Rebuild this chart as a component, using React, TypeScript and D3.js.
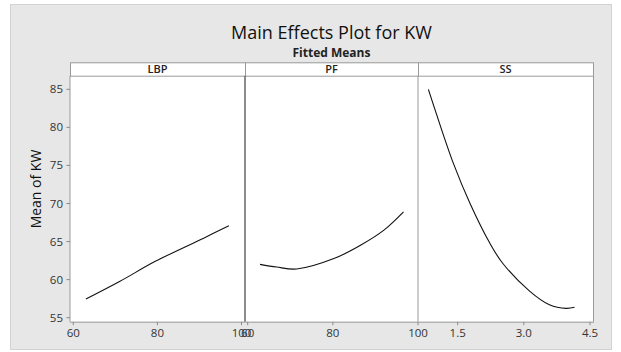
import React from "react";
import * as d3 from "d3";

// ---- data ----
const panelNames = ["LBP", "PF", "SS"];
const yTicks = [55, 60, 65, 70, 75, 80, 85];
const lbpTicks = [60, 80, 100];
const pfTicks = [60, 80, 100];
const ssTicks = [1.5, 3.0, 4.5];

const lbpX = [63, 71, 79.5, 91, 97];
const lbpY = [57.45, 59.75, 62.4, 65.45, 67.08];

const pfX = [62.9, 66.8, 71.5, 80.4, 86.6, 92.0, 96.6];
const pfY = [62.0, 61.65, 61.4, 62.8, 64.55, 66.5, 68.9];

const ssX = [0.835, 0.987, 1.4, 1.78, 2.23, 2.52, 3.13, 3.58, 3.96, 4.15];
const ssY = [85.0, 82.3, 75.3, 70.0, 64.77, 62.15, 58.5, 56.7, 56.23, 56.37];

const W = 621;
const H = 352;

export default function App() {
  const top = 75.7;
  const bottom = 321.7;
  const stripTop = 62.3;
  const y = d3.scaleLinear().domain([55, 85]).range([317.7, 89.3]);

  const panels = [
    {
      name: panelNames[0], x0: 70, x1: 245,
      x: d3.scaleLinear().domain([60, 100]).range([73.3, 241.5]),
      ticks: lbpTicks, fmt: (v: number) => String(v), xs: lbpX, ys: lbpY,
    },
    {
      name: panelNames[1], x0: 245, x1: 418,
      x: d3.scaleLinear().domain([60, 100]).range([247.7, 418]),
      ticks: pfTicks, fmt: (v: number) => String(v), xs: pfX, ys: pfY,
    },
    {
      name: panelNames[2], x0: 418, x1: 593,
      x: d3.scaleLinear().domain([1.5, 4.5]).range([457.7, 590]),
      ticks: ssTicks, fmt: (v: number) => v.toFixed(1), xs: ssX, ys: ssY,
    },
  ];

  const font = "'Open Sans', 'Noto Sans', sans-serif";

  return (
    <svg width={W} height={H} style={{ position: "absolute", left: 0, top: 0, background: "#fff" }}
      fontFamily={font}>
      <rect x={10.5} y={4.5} width={601} height={345} fill="#e7e7e7" stroke="#d2d2d2" />
      <text x={331.5} y={39} textAnchor="middle" fontSize={18} fill="#111">Main Effects Plot for KW</text>
      <text x={331.5} y={56.5} textAnchor="middle" fontSize={12} fontWeight="bold" fill="#222">Fitted Means</text>

      {panels.map((p, i) => {
        const line = d3.line<number>()
          .x((_, k) => p.x(p.xs[k]))
          .y((_, k) => y(p.ys[k]))
          .curve(d3.curveCatmullRom.alpha(0.5));
        return (
          <g key={p.name}>
            <rect x={p.x0} y={top} width={p.x1 - p.x0} height={bottom - top} fill="#fff" />
            <rect x={p.x0 + 0.5} y={stripTop + 0.5} width={p.x1 - p.x0} height={top - stripTop}
              fill="#fff" stroke="#9a9a9a" />
            <text x={(p.x0 + p.x1) / 2} y={stripTop + 11} textAnchor="middle" fontSize={11}
              fontWeight="600" fill="#222">{p.name}</text>
            {i > 0 && (
              <line x1={p.x0} x2={p.x0} y1={top} y2={bottom}
                stroke={i === 1 ? "#6e6e6e" : "#9a9a9a"} strokeWidth={i === 1 ? 1.6 : 1} />
            )}
            <path d={line(p.xs) || ""} fill="none" stroke="#111" strokeWidth={1.1} />
            {p.ticks.map((t) => (
              <g key={t}>
                <line x1={p.x(t)} x2={p.x(t)} y1={bottom} y2={bottom + 3.5} stroke="#888" />
                <text x={p.x(t)} y={337} textAnchor="middle" fontSize={11.5} fill="#333">{p.fmt(t)}</text>
              </g>
            ))}
          </g>
        );
      })}

      <line x1={70} x2={70} y1={top} y2={bottom} stroke="#9a9a9a" />
      <line x1={593.5} x2={593.5} y1={top} y2={bottom} stroke="#9a9a9a" />
      <line x1={70} x2={594} y1={bottom + 0.5} y2={bottom + 0.5} stroke="#9a9a9a" />

      {yTicks.map((t) => (
        <g key={t}>
          <line x1={66.5} x2={70} y1={y(t)} y2={y(t)} stroke="#888" />
          <text x={63} y={y(t) + 4} textAnchor="end" fontSize={11.5} fill="#333">{t}</text>
        </g>
      ))}

      <text transform={`translate(41,189) rotate(-90)`} textAnchor="middle" fontSize={14} fill="#111">Mean of KW</text>
    </svg>
  );
}
